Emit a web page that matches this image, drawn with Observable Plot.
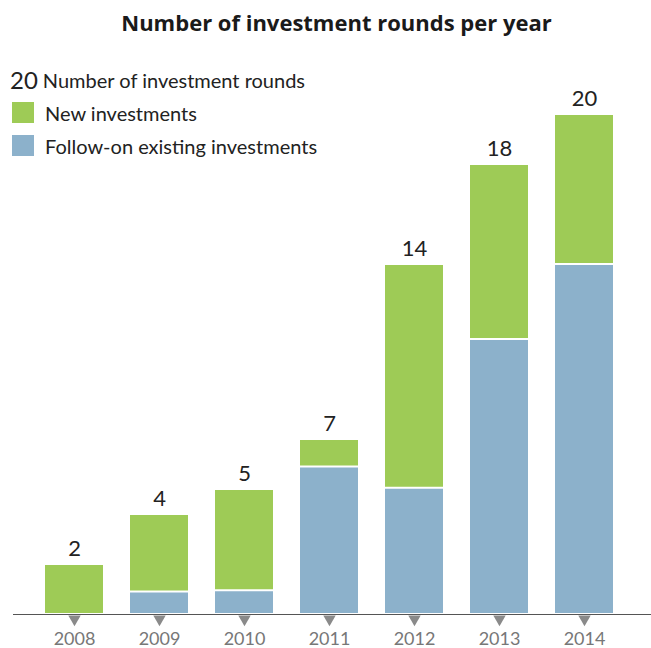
<!DOCTYPE html>
<html>
<head>
<meta charset="utf-8">
<script src="https://cdn.jsdelivr.net/npm/d3@7"></script>
<script src="https://cdn.jsdelivr.net/npm/@observablehq/plot@0.6"></script>
<style>
  html, body { margin: 0; padding: 0; background: #fff; }
  #wrap { position: relative; width: 651px; height: 648px; font-family: Lato, "Noto Sans", sans-serif; }
  #title { height: 48px; line-height: 44px; text-align: center; padding-left: 22px; box-sizing: border-box; font-family: "Open Sans", sans-serif; font-weight: 700; font-size: 22px; color: #1a1a1a; }
  #legend { position: absolute; left: 10px; top: 63px; color: #222; }
  .row { display: flex; align-items: center; height: 33px; }
  .sw { width: 22px; height: 21px; margin: 0 11px 0 2px; }
  .lbl { font-size: 20px; }
  .num { font-size: 24px; margin-right: 5px; }
</style>
</head>
<body>
<div id="wrap">
  <div id="title">Number of investment rounds per year</div>
  <div id="chart"></div>
  <div id="legend"></div>
</div>
<script>
const years = ["2008", "2009", "2010", "2011", "2012", "2013", "2014"];
const totals = [2, 4, 5, 7, 14, 18, 20];
const followOn = [0, 0.9, 0.95, 5.9, 5.05, 11, 14];
const seriesNames = ["Follow-on existing investments", "New investments"];
const seriesColors = ["#8cb1cb", "#9ecb56"];
const legendNumber = "20";
const legendNumberLabel = "Number of investment rounds";

const rows = [];
years.forEach((y, i) => rows.push({year: y, series: seriesNames[0], value: followOn[i]}));
years.forEach((y, i) => rows.push({year: y, series: seriesNames[1], value: totals[i] - followOn[i]}));
const barRows = rows.filter(d => d.value > 0);
const totalRows = years.map((y, i) => ({year: y, total: totals[i]}));

const chart = Plot.plot({
  width: 651,
  height: 600,
  marginTop: 66,
  marginBottom: 34,
  marginLeft: 13,
  marginRight: 0,
  style: {fontFamily: "Lato, 'Noto Sans', sans-serif", background: "#fff"},
  x: {domain: years, range: [30.3, 627.7], paddingInner: 0.32, paddingOuter: 0.16, label: null},
  y: {domain: [0, 20], axis: null},
  color: {domain: seriesNames, range: seriesColors},
  marks: [
    Plot.barY(barRows, Plot.stackY({x: "year", y: "value", fill: "series", order: seriesNames, insetTop: 1, insetBottom: 1})),
    Plot.ruleY([0], {stroke: "#555", strokeWidth: 1.2}),
    Plot.dot(years, {x: d => d, y: 0, symbol: "triangle", rotate: 180, r: 4.6, fill: "#8a8a8a", dy: 4.5}),
    Plot.axisX({tickSize: 0, tickPadding: 18, fontSize: 18, color: "#777", label: null}),
    Plot.text(totalRows, {x: "year", y: "total", text: d => String(d.total), dy: -16, fontSize: 22, fill: "#222"})
  ]
});
document.getElementById("chart").appendChild(chart);

const legend = document.getElementById("legend");
const r0 = document.createElement("div");
r0.className = "row";
r0.innerHTML = `<span class="num">${legendNumber}</span><span class="lbl">${legendNumberLabel}</span>`;
legend.appendChild(r0);
[1, 0].forEach(i => {
  const r = document.createElement("div");
  r.className = "row";
  r.innerHTML = `<span class="sw" style="background:${seriesColors[i]}"></span><span class="lbl">${seriesNames[i]}</span>`;
  legend.appendChild(r);
});
</script>
</body>
</html>
